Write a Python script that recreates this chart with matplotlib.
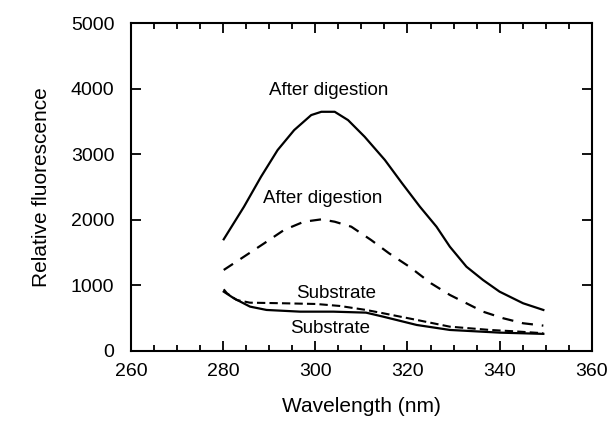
import numpy as np
import matplotlib
matplotlib.use('Agg')
import matplotlib.pyplot as plt
from matplotlib.ticker import MultipleLocator

plt.rcParams['font.family'] = ['Liberation Sans', 'DejaVu Sans']

# data
wl_after = [280.1, 284.5, 288.2, 291.8, 295.4, 299.1, 301.3, 304.2, 307.1,
            310.7, 315.1, 318.8, 322.7, 326.3, 329.2, 332.8, 336.4, 340.0,
            345.1, 349.5]
after_solid = [1703, 2200, 2657, 3064, 3369, 3598, 3648, 3648, 3521,
               3267, 2912, 2560, 2200, 1895, 1590, 1285, 1082, 904,
               727, 625]

wl_after2 = [280.1, 284.5, 288.9, 293.2, 297.5, 301.3, 304.2, 307.8, 312.1,
             316.0, 320.5, 325.1, 329.2, 332.1, 336.4, 340.8, 345.1, 349.5]
after_dashed = [1235, 1438, 1642, 1845, 1971, 2007, 1971, 1895, 1692,
                1489, 1280, 1032, 854, 752, 599, 498, 422, 386]

wl_sub = [280.1, 280.8, 282.9, 285.8, 293.0, 300.2, 305.3, 311.0, 314.7,
          322.0, 329.2, 337.9, 343.0, 349.5]
sub_dashed = [940, 880, 777, 736, 727, 716, 686, 625, 575,
              473, 370, 320, 300, 270]

wl_sub2 = [280.1, 282.3, 285.8, 289.4, 296.7, 303.9, 311.0, 314.7, 322.0,
           329.2, 340.0, 349.5]
sub_solid = [904, 803, 676, 625, 599, 599, 584, 523, 396,
             320, 279, 260]

fig = plt.figure(figsize=(6.1, 4.29), dpi=100)
ax = fig.add_axes([0.215, 0.182, 0.755, 0.764])

ax.plot(wl_after, after_solid, color='k', lw=1.6, ls='-')
ax.plot(wl_after2, after_dashed, color='k', lw=1.6, ls=(0, (5, 4)))
ax.plot(wl_sub, sub_dashed, color='k', lw=1.5, ls=(0, (4, 2)))
ax.plot(wl_sub2, sub_solid, color='k', lw=1.6, ls='-')

ax.text(302.9, 3980, 'After digestion', ha='center', va='center', fontsize=13.5)
ax.text(301.6, 2330, 'After digestion', ha='center', va='center', fontsize=13.5)
ax.text(304.4, 880, 'Substrate', ha='center', va='center', fontsize=13.5)
ax.text(303.3, 346, 'Substrate', ha='center', va='center', fontsize=13.5)

ax.set_xlim(260, 360)
ax.set_ylim(0, 5000)
ax.xaxis.set_major_locator(MultipleLocator(20))
ax.xaxis.set_minor_locator(MultipleLocator(5))
ax.yaxis.set_major_locator(MultipleLocator(1000))

ax.tick_params(which='both', direction='in', top=True, right=True, width=1.3,
               labelsize=14)
ax.tick_params(axis='x', which='major', length=7, pad=9)
ax.tick_params(axis='y', which='major', length=7, pad=12)
ax.tick_params(which='minor', length=4)
for s in ax.spines.values():
    s.set_linewidth(1.5)

ax.set_xlabel('Wavelength (nm)', fontsize=15, labelpad=12)
ax.set_ylabel('Relative fluorescence', fontsize=15, labelpad=14)

fig.savefig('out.png', dpi=100)
